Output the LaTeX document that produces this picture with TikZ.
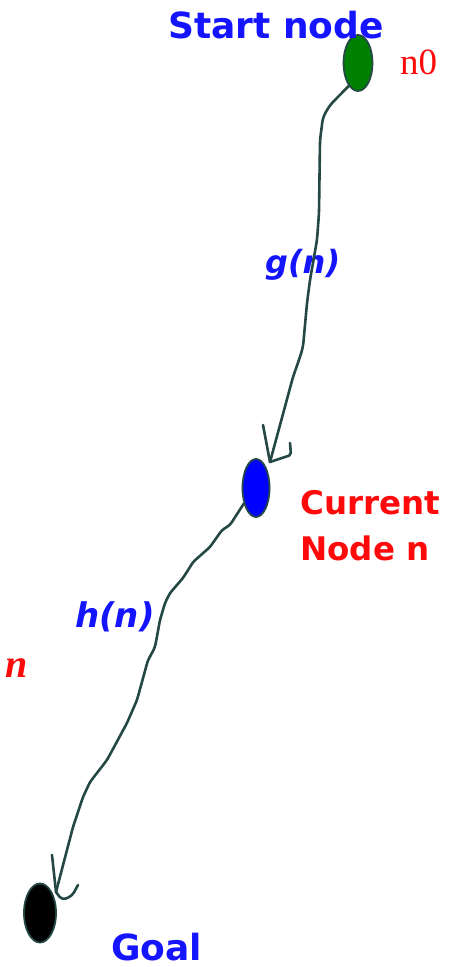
\documentclass[tikz,border=0pt]{standalone}
\usepackage{fontspec}
\setsansfont{DejaVu Sans}
\setmainfont{Liberation Serif}
\usetikzlibrary{shapes.geometric}
\definecolor{pathcol}{RGB}{36,72,68}
\definecolor{lblue}{RGB}{20,20,255}
\definecolor{lred}{RGB}{255,10,10}
\definecolor{nodegreen}{RGB}{0,128,0}
\tikzset{
  stateblob/.style={ellipse,draw=pathcol,line width=1.8pt,inner sep=0pt},
  handline/.style={draw=pathcol,line width=2.6pt,line cap=round,line join=round,rounded corners=5pt},
  bluelabel/.style={text=lblue,font=\sffamily\bfseries\fontsize{36}{40}\selectfont,anchor=base west,inner sep=0pt},
  redlabel/.style={text=lred,font=\sffamily\bfseries\fontsize{32.5}{40}\selectfont,anchor=base west,inner sep=0pt},
  costlabel/.style={text=lblue,font=\sffamily\bfseries\itshape\fontsize{34}{40}\selectfont,anchor=base west,inner sep=0pt}
}
\begin{document}
\begin{tikzpicture}[x=1pt,y=-1pt]
\useasboundingbox (0,0) rectangle (453,967);
% nodes
\node[stateblob,fill=nodegreen,minimum width=29pt,minimum height=56pt] (s) at (358,63) {};
\node[stateblob,fill=blue,minimum width=27pt,minimum height=58pt] (c) at (256,488) {};
\node[stateblob,fill=black,minimum width=32pt,minimum height=59pt] (g) at (40,913) {};
% labels
\node[bluelabel] (lstart) at (168,38) {Start node};
\node[text=lred,font=\rmfamily\fontsize{37}{40}\selectfont,anchor=base west,inner sep=0pt] (ln0) at (400,74) {n0};
\node[costlabel,font=\sffamily\bfseries\itshape\fontsize{32}{40}\selectfont] (lg) at (265,273) {g(n)};
\node[redlabel] (lcur) at (300,514) {Current};
\node[redlabel] (lnode) at (300,560) {Node n};
\node[costlabel] (lh) at (75,627) {h(n)};
\node[text=lred,font=\rmfamily\bfseries\itshape\fontsize{40}{40}\selectfont,anchor=base west,inner sep=0pt] (ln) at (5,677) {n};
\node[bluelabel] (lgoal) at (111,960) {Goal};
% arrow tips
\coordinate (t1) at (270,462);
\coordinate (t2) at (56,892);
% path g(n)
\draw[handline] (s.-112) -- (330,105) -- (323,117) -- (320,140) -- (319,213) -- (317,240)
  -- (310,280) -- (307,303) -- (303,347) -- (300,357) -- (293,377) -- (t1);
\draw[handline,rounded corners=0pt] (263,425) -- (t1);
\draw[handline,rounded corners=2pt] (290,443) -- (291,455) -- (t1);
% path h(n)
\draw[handline,rounded corners=3pt] (c.-128) -- (230,525) -- (222,530) -- (210,547) -- (193,562)
  -- (190,567) -- (183,578) -- (170,593) -- (165,603) -- (160,620) -- (155,647)
  -- (152,653) -- (148,660) -- (137,700) -- (127,723) -- (107,760) -- (90,782)
  -- (83,797) -- (73,827) -- (t2);
\draw[handline,rounded corners=0pt] (52,855) -- (t2);
\draw[handline,rounded corners=4pt] (t2) -- (62,900) -- (72,896) -- (78,885);
\end{tikzpicture}
\end{document}
